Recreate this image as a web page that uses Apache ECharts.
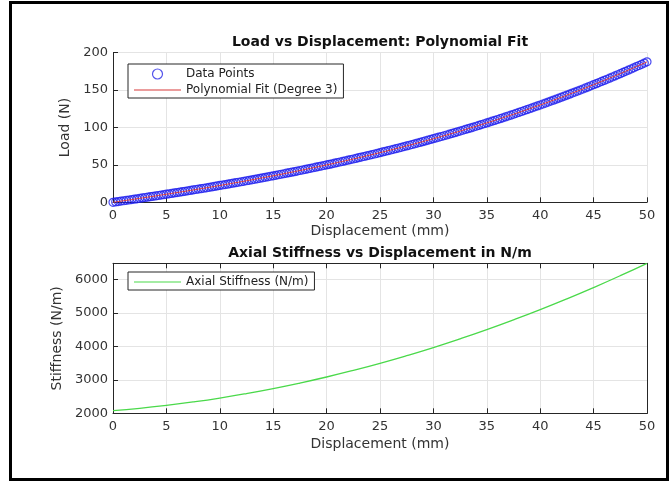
<!DOCTYPE html>
<html>
<head>
<meta charset="utf-8">
<script src="https://cdn.jsdelivr.net/npm/echarts@6/dist/echarts.min.js"></script>
<style>
  html, body { margin: 0; padding: 0; background: #ffffff; }
  #chart { width: 669px; height: 485px; }
</style>
</head>
<body>
<div id="chart"></div>
<script>
// Measured displacement (mm)
const displacement = [
  0, 0.25, 0.5, 0.75, 1, 1.25, 1.5, 1.75, 2, 2.25, 2.5, 2.75, 3, 3.25, 3.5, 3.75, 4, 4.25, 4.5, 4.75,
  5, 5.25, 5.5, 5.75, 6, 6.25, 6.5, 6.75, 7, 7.25, 7.5, 7.75, 8, 8.25, 8.5, 8.75, 9, 9.25, 9.5, 9.75,
  10, 10.25, 10.5, 10.75, 11, 11.25, 11.5, 11.75, 12, 12.25, 12.5, 12.75, 13, 13.25, 13.5, 13.75, 14, 14.25, 14.5, 14.75,
  15, 15.25, 15.5, 15.75, 16, 16.25, 16.5, 16.75, 17, 17.25, 17.5, 17.75, 18, 18.25, 18.5, 18.75, 19, 19.25, 19.5, 19.75,
  20, 20.25, 20.5, 20.75, 21, 21.25, 21.5, 21.75, 22, 22.25, 22.5, 22.75, 23, 23.25, 23.5, 23.75, 24, 24.25, 24.5, 24.75,
  25, 25.25, 25.5, 25.75, 26, 26.25, 26.5, 26.75, 27, 27.25, 27.5, 27.75, 28, 28.25, 28.5, 28.75, 29, 29.25, 29.5, 29.75,
  30, 30.25, 30.5, 30.75, 31, 31.25, 31.5, 31.75, 32, 32.25, 32.5, 32.75, 33, 33.25, 33.5, 33.75, 34, 34.25, 34.5, 34.75,
  35, 35.25, 35.5, 35.75, 36, 36.25, 36.5, 36.75, 37, 37.25, 37.5, 37.75, 38, 38.25, 38.5, 38.75, 39, 39.25, 39.5, 39.75,
  40, 40.25, 40.5, 40.75, 41, 41.25, 41.5, 41.75, 42, 42.25, 42.5, 42.75, 43, 43.25, 43.5, 43.75, 44, 44.25, 44.5, 44.75,
  45, 45.25, 45.5, 45.75, 46, 46.25, 46.5, 46.75, 47, 47.25, 47.5, 47.75, 48, 48.25, 48.5, 48.75, 49, 49.25, 49.5, 49.75,
  50
];

// Measured load (N) at each displacement
const load = [
  0.0, 0.5, 1.0, 1.6, 2.1, 2.6, 3.1, 3.7, 4.2, 4.7, 5.3, 5.8, 6.4, 6.9, 7.5, 8.0, 8.5, 9.1, 9.7, 10.2,
  10.8, 11.3, 11.9, 12.5, 13.0, 13.6, 14.2, 14.7, 15.3, 15.9, 16.5, 17.1, 17.7, 18.2, 18.8, 19.4, 20.0, 20.6, 21.2, 21.9,
  22.5, 23.1, 23.7, 24.3, 25.0, 25.6, 26.2, 26.8, 27.5, 28.1, 28.8, 29.4, 30.1, 30.7, 31.4, 32.1, 32.7, 33.4, 34.1, 34.8,
  35.4, 36.1, 36.8, 37.5, 38.2, 38.9, 39.6, 40.3, 41.0, 41.8, 42.5, 43.2, 43.9, 44.7, 45.4, 46.2, 46.9, 47.7, 48.4, 49.2,
  50.0, 50.7, 51.5, 52.3, 53.1, 53.9, 54.7, 55.5, 56.3, 57.1, 57.9, 58.7, 59.6, 60.4, 61.2, 62.1, 62.9, 63.8, 64.6, 65.5,
  66.4, 67.3, 68.1, 69.0, 69.9, 70.8, 71.7, 72.6, 73.5, 74.5, 75.4, 76.3, 77.3, 78.2, 79.2, 80.1, 81.1, 82.1, 83.0, 84.0,
  85.0, 86.0, 87.0, 88.0, 89.0, 90.0, 91.1, 92.1, 93.1, 94.2, 95.2, 96.3, 97.4, 98.4, 99.5, 100.6, 101.7, 102.8, 103.9, 105.0,
  106.1, 107.3, 108.4, 109.5, 110.7, 111.8, 113.0, 114.2, 115.4, 116.5, 117.7, 118.9, 120.1, 121.4, 122.6, 123.8, 125.1, 126.3, 127.6, 128.8,
  130.1, 131.4, 132.7, 134.0, 135.3, 136.6, 137.9, 139.2, 140.5, 141.9, 143.2, 144.6, 146.0, 147.3, 148.7, 150.1, 151.5, 152.9, 154.3, 155.8,
  157.2, 158.6, 160.1, 161.6, 163.0, 164.5, 166.0, 167.5, 169.0, 170.5, 172.0, 173.6, 175.1, 176.7, 178.2, 179.8, 181.4, 182.9, 184.5, 186.1,
  187.8
];

// Cubic fit evaluated at the same displacements (N)
const fitLoad = load;

// Axial stiffness (N/m) from the fitted curve
const stiffDisp = [0, 2.5, 5, 7.5, 10, 12.5, 15, 17.5, 20, 22.5, 25, 27.5, 30, 32.5, 35, 37.5, 40, 42.5, 45, 47.5, 50];
const stiffness = [2080, 2150, 2237, 2339, 2456, 2590, 2739, 2904, 3084, 3281, 3493, 3721, 3964, 4224, 4499, 4790, 5096, 5418, 5756, 6110, 6480];

const titles = ['Load vs Displacement: Polynomial Fit', 'Axial Stiffness vs Displacement in N/m'];
const seriesNames = ['Data Points', 'Polynomial Fit (Degree 3)', 'Axial Stiffness (N/m)'];

const FONT = "'DejaVu Sans', sans-serif";
const AXIS = '#262626';
const TEXT = '#333333';
const GRID = '#e4e4e4';
const BLUE = '#1f1fee';
const RED = '#d83a3a';
const GREEN = '#4ad94a';
const CLEAR = 'rgba(0,0,0,0)';

const pairs = (xs, ys) => xs.map((x, i) => [x, ys[i]]);
const plain = v => String(v);

function xAxisBase(gridIndex) {
  return {
    type: 'value', gridIndex, min: 0, max: 50, interval: 5,
    name: 'Displacement (mm)', nameLocation: 'middle',
    nameTextStyle: { fontFamily: FONT, fontSize: 14, color: TEXT },
    axisLine: { show: true, onZero: false, lineStyle: { color: AXIS, width: 1 } },
    axisTick: { show: true, inside: true, length: 5, lineStyle: { color: AXIS } },
    axisLabel: { fontFamily: FONT, fontSize: 13, color: TEXT, margin: 7, formatter: plain },
    splitLine: { show: true, lineStyle: { color: GRID, width: 1 } }
  };
}

function yAxisBase(gridIndex) {
  return {
    type: 'value', gridIndex, nameLocation: 'middle',
    nameTextStyle: { fontFamily: FONT, fontSize: 14, color: TEXT },
    axisLine: { show: true, onZero: false, lineStyle: { color: AXIS, width: 1 } },
    axisTick: { show: true, inside: true, length: 5, lineStyle: { color: AXIS } },
    axisLabel: { fontFamily: FONT, fontSize: 13, color: TEXT, margin: 5, formatter: plain },
    splitLine: { show: true, lineStyle: { color: GRID, width: 1 } }
  };
}

const legendStyle = {
  orient: 'vertical',
  itemWidth: 47, itemHeight: 10, itemGap: 4,
  padding: [4, 6, 2, 6],
  borderColor: AXIS, borderWidth: 1, borderRadius: 0,
  backgroundColor: '#ffffff',
  selectedMode: false,
  textStyle: { fontFamily: FONT, fontSize: 12, color: '#222222' }
};

// Legend entry drawn as a thin horizontal stroke
const lineEntry = (name, color) => ({
  name,
  icon: 'path://M0,0H47V1.2H0Z',
  itemStyle: { color, borderWidth: 0 }
});

const chart = echarts.init(document.getElementById('chart'), null, { renderer: 'canvas' });

chart.setOption({
  backgroundColor: '#ffffff',
  animation: false,
  title: [
    { text: titles[0], left: 380, top: 35, textAlign: 'center', padding: 0,
      textStyle: { fontFamily: FONT, fontSize: 14, fontWeight: 'bold', color: '#111111' } },
    { text: titles[1], left: 380, top: 246, textAlign: 'center', padding: 0,
      textStyle: { fontFamily: FONT, fontSize: 14, fontWeight: 'bold', color: '#111111' } }
  ],
  grid: [
    { left: 113, top: 52.7, width: 534, height: 149.6 },
    { left: 113, top: 263.3, width: 534, height: 150 }
  ],
  xAxis: [
    Object.assign(xAxisBase(0), { nameGap: 22 }),
    Object.assign(xAxisBase(1), { nameGap: 24 }),
    { type: 'value', gridIndex: 1, position: 'top', min: 0, max: 50, interval: 5,
      axisLine: { show: true, onZero: false, lineStyle: { color: AXIS, width: 1 } },
      axisTick: { show: true, inside: true, length: 5, lineStyle: { color: AXIS } },
      axisLabel: { show: false }, splitLine: { show: false } }
  ],
  yAxis: [
    Object.assign(yAxisBase(0), { name: 'Load (N)', nameGap: 34, min: 0, max: 200, interval: 50 }),
    Object.assign(yAxisBase(1), { name: 'Stiffness (N/m)', nameGap: 43, min: 2000, max: 'dataMax', interval: 1000,
      axisLabel: { fontFamily: FONT, fontSize: 13, color: TEXT, margin: 5, showMaxLabel: false, formatter: plain } }),
    { type: 'value', gridIndex: 1, position: 'right', min: 2000, max: 'dataMax', interval: 1000,
      axisLine: { show: true, onZero: false, lineStyle: { color: AXIS, width: 1 } },
      axisTick: { show: true, inside: true, length: 5, lineStyle: { color: AXIS } },
      axisLabel: { show: false }, splitLine: { show: false } }
  ],
  legend: [
    Object.assign({}, legendStyle, {
      left: 128, top: 64,
      data: [
        { name: seriesNames[0], icon: 'circle',
          itemStyle: { color: CLEAR, borderColor: '#2a2ae6', borderWidth: 1.2 } },
        lineEntry(seriesNames[1], RED)
      ]
    }),
    Object.assign({}, legendStyle, {
      left: 128, top: 272,
      data: [lineEntry(seriesNames[2], GREEN)]
    })
  ],
  series: [
    {
      name: seriesNames[0], type: 'scatter', xAxisIndex: 0, yAxisIndex: 0,
      data: pairs(displacement, load),
      symbol: 'circle', symbolSize: 8,
      itemStyle: { color: CLEAR, borderColor: BLUE, borderWidth: 1.2 },
      z: 2
    },
    {
      name: seriesNames[1], type: 'line', xAxisIndex: 0, yAxisIndex: 0,
      data: pairs(displacement, fitLoad),
      showSymbol: false,
      lineStyle: { color: RED, width: 1 },
      itemStyle: { color: RED },
      z: 3
    },
    {
      name: seriesNames[2], type: 'line', xAxisIndex: 1, yAxisIndex: 1,
      data: pairs(stiffDisp, stiffness),
      showSymbol: false, smooth: true,
      lineStyle: { color: GREEN, width: 1.3 },
      itemStyle: { color: GREEN }
    }
  ],
  graphic: [
    { type: 'rect', silent: true, z: 100,
      shape: { x: 10.5, y: 2.5, width: 657, height: 477 },
      style: { fill: 'none', stroke: '#000000', lineWidth: 3 } }
  ]
});
</script>
</body>
</html>
